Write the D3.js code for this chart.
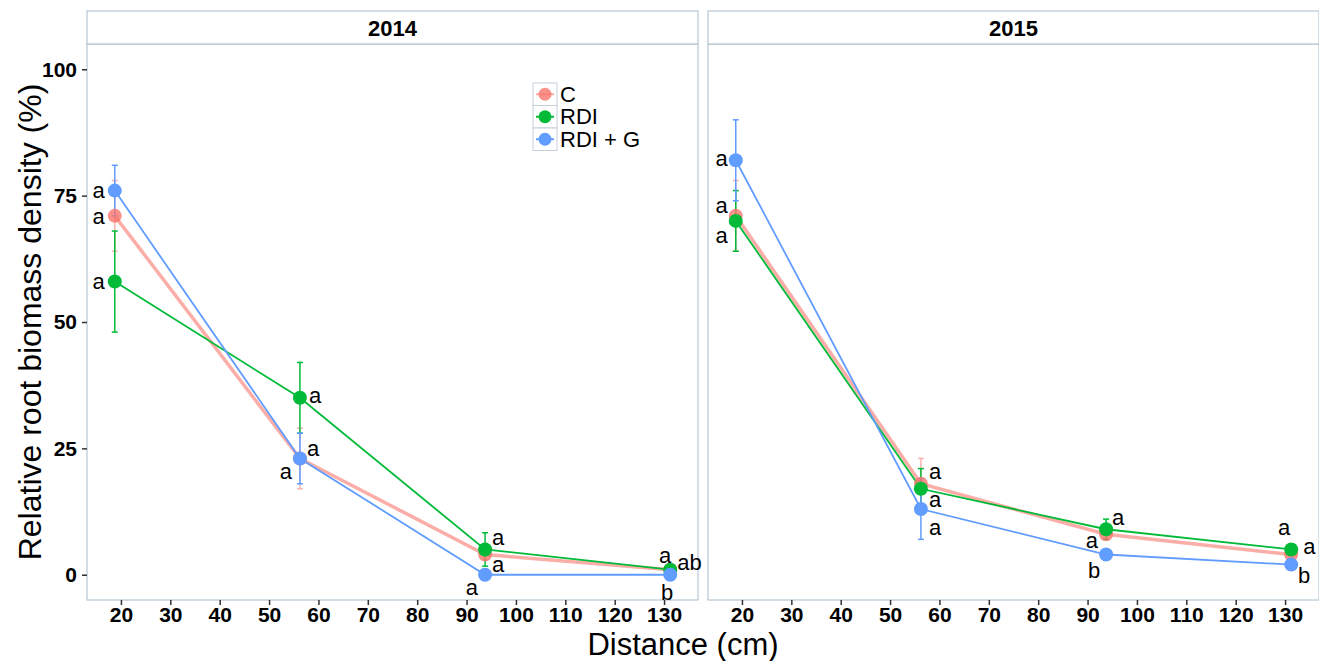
<!DOCTYPE html>
<html>
<head>
<meta charset="utf-8">
<script src="https://cdn.jsdelivr.net/npm/d3@7"></script>
<style>
  html, body { margin: 0; padding: 0; background: #fff; }
  svg { display: block; font-family: "Liberation Sans", Arial, sans-serif; }
</style>
</head>
<body>
<svg id="chart" width="1319" height="661"></svg>
<script>
// ---------------- DATA ----------------
const years = ["2014", "2015"];
const seriesNames = ["C", "RDI", "RDI + G"];
const distances = [18.75, 56.25, 93.75, 131.25];
const xTicks = [20, 30, 40, 50, 60, 70, 80, 90, 100, 110, 120, 130];
const yTicks = [0, 25, 50, 75, 100];

// means per year per series (order of seriesNames)
const mean2014_C    = [71, 23, 4, 1];
const mean2014_RDI  = [58, 35, 5, 1];
const mean2014_RDIG = [76, 23, 0, 0];
const mean2015_C    = [71, 18, 8, 4];
const mean2015_RDI  = [70, 17, 9, 5];
const mean2015_RDIG = [82, 13, 4, 2];
// error (half width)
const err2014_C    = [7, 6, 1, 0.5];
const err2014_RDI  = [10, 7, 3.3, 0.5];
const err2014_RDIG = [5, 5, 0, 0];
const err2015_C    = [7, 5, 1, 0.5];
const err2015_RDI  = [6, 4, 2, 0.8];
const err2015_RDIG = [8, 6, 0, 0];

// significance letters: [distance index, series index, letter]
const letters2014 = [
  [0, 2, "a"], [0, 0, "a"], [0, 1, "a"],
  [1, 1, "a"], [1, 2, "a"], [1, 0, "a"],
  [2, 1, "a"], [2, 0, "a"], [2, 2, "a"],
  [3, 1, "a"], [3, 0, "ab"], [3, 2, "b"]
];
const letters2015 = [
  [0, 2, "a"], [0, 0, "a"], [0, 1, "a"],
  [1, 0, "a"], [1, 1, "a"], [1, 2, "a"],
  [2, 1, "a"], [2, 0, "a"], [2, 2, "b"],
  [3, 1, "a"], [3, 0, "a"], [3, 2, "b"]
];

// ---------------- STYLE / LAYOUT ----------------
const colors = ["#F8766D", "#00BA38", "#619CFF"];
const panels = [
  { x0: 87, x1: 698 },
  { x0: 708, x1: 1319 }
];
const stripTop = 11, plotTop = 44, plotBottom = 600;
// label offsets (px) relative to the point, same order as letter arrays
const offs2014 = [
  [-10, 0, "end"], [-10, 0, "end"], [-10, 0, "end"],
  [9, -3, "start"], [7, -10, "start"], [-8, 13, "end"],
  [7, -12, "start"], [7, 10, "start"], [-7, 13, "end"],
  [-5, -14, "middle"], [7, -7, "start"], [-3, 18, "middle"]
];
const offs2015 = [
  [-8, -2, "end"], [-8, -11, "end"], [-8, 14, "end"],
  [8, -12, "start"], [8, 10, "start"], [8, 18, "start"],
  [6, -12, "start"], [-8, 6, "end"], [-12, 16, "middle"],
  [-7, -22, "middle"], [12, -8, "start"], [13, 11, "middle"]
];

const means = [
  [mean2014_C, mean2014_RDI, mean2014_RDIG],
  [mean2015_C, mean2015_RDI, mean2015_RDIG]
];
const errs = [
  [err2014_C, err2014_RDI, err2014_RDIG],
  [err2015_C, err2015_RDI, err2015_RDIG]
];
const letterSets = [letters2014, letters2015];
const offSets = [offs2014, offs2015];

const svg = d3.select("#chart");
const y = d3.scaleLinear().domain([-5, 105]).range([plotBottom, plotTop]);
const borderCol = "#a9bccb";
const fontFam = "Liberation Sans, Arial, sans-serif";

panels.forEach((p, pi) => {
  const x = d3.scaleLinear().domain([13.125, 136.875]).range([p.x0, p.x1]);
  const g = svg.append("g");

  g.append("rect").attr("x", p.x0).attr("y", plotTop).attr("width", p.x1 - p.x0).attr("height", plotBottom - plotTop)
    .attr("fill", "#fff").attr("stroke", borderCol).attr("stroke-width", 1);
  g.append("rect").attr("x", p.x0).attr("y", stripTop).attr("width", p.x1 - p.x0).attr("height", plotTop - stripTop)
    .attr("fill", "#fff").attr("stroke", borderCol).attr("stroke-width", 1);
  g.append("text").attr("x", (p.x0 + p.x1) / 2).attr("y", 36).attr("text-anchor", "middle")
    .attr("font-weight", "bold").attr("font-size", 22).attr("fill", "#000").text(years[pi]);

  const xa = g.append("g").attr("transform", `translate(0,${plotBottom})`)
    .call(d3.axisBottom(x).tickValues(xTicks).tickSize(5).tickPadding(2).tickSizeOuter(0));
  xa.select(".domain").remove();
  xa.selectAll(".tick line").attr("stroke", "#333").attr("stroke-width", 1.5);
  xa.selectAll(".tick text").attr("font-size", 21).attr("font-weight", "bold").attr("fill", "#000")
    .attr("font-family", fontFam);

  if (pi === 0) {
    const ya = g.append("g").attr("transform", `translate(${p.x0},0)`)
      .call(d3.axisLeft(y).tickValues(yTicks).tickSize(5).tickPadding(5).tickSizeOuter(0));
    ya.select(".domain").remove();
    ya.selectAll(".tick line").attr("stroke", "#333").attr("stroke-width", 1.5);
    ya.selectAll(".tick text").attr("font-size", 21).attr("font-weight", "bold").attr("fill", "#000")
      .attr("font-family", fontFam);
  }

  const line = d3.line().x(d => x(d[0])).y(d => y(d[1]));

  seriesNames.forEach((s, si) => {
    const pts = distances.map((d, i) => [d, means[pi][si][i], errs[pi][si][i]]);
    const col = colors[si];
    const isC = si === 0;
    pts.forEach(pt => {
      if (pt[2] <= 0) return;
      const eg = g.append("g").attr("stroke", col).attr("stroke-width", 1.5).attr("opacity", isC ? 0.55 : 1);
      eg.append("line").attr("x1", x(pt[0])).attr("x2", x(pt[0])).attr("y1", y(pt[1] - pt[2])).attr("y2", y(pt[1] + pt[2]));
      eg.append("line").attr("x1", x(pt[0]) - 3).attr("x2", x(pt[0]) + 3).attr("y1", y(pt[1] - pt[2])).attr("y2", y(pt[1] - pt[2]));
      eg.append("line").attr("x1", x(pt[0]) - 3).attr("x2", x(pt[0]) + 3).attr("y1", y(pt[1] + pt[2])).attr("y2", y(pt[1] + pt[2]));
    });
    g.append("path").datum(pts).attr("d", line).attr("fill", "none")
      .attr("stroke", col).attr("stroke-width", isC ? 3.5 : 1.8).attr("opacity", isC ? 0.6 : 1);
  });
  seriesNames.forEach((s, si) => {
    const pts = distances.map((d, i) => [d, means[pi][si][i]]);
    g.selectAll(null).data(pts).enter().append("circle")
      .attr("cx", d => x(d[0])).attr("cy", d => y(d[1])).attr("r", 7)
      .attr("fill", colors[si]).attr("opacity", si === 0 ? 0.8 : 1);
  });

  letterSets[pi].forEach((L, li) => {
    const [di, si, txt] = L;
    const o = offSets[pi][li];
    g.append("text")
      .attr("x", x(distances[di]) + o[0])
      .attr("y", y(means[pi][si][di]) + o[1])
      .attr("dy", "0.35em")
      .attr("text-anchor", o[2])
      .attr("font-size", 22).attr("fill", "#000").text(txt);
  });
});

// Legend
const lg = svg.append("g");
const legX = 533, legY = 83, keyW = 24, keyH = 22.5;
seriesNames.forEach((s, i) => {
  const ky = legY + i * keyH;
  lg.append("rect").attr("x", legX).attr("y", ky).attr("width", keyW).attr("height", keyH)
    .attr("fill", "#fff").attr("stroke", "#c3d0da").attr("stroke-width", 1);
  lg.append("line").attr("x1", legX + 3).attr("x2", legX + keyW - 3).attr("y1", ky + keyH / 2).attr("y2", ky + keyH / 2)
    .attr("stroke", colors[i]).attr("stroke-width", 2).attr("opacity", i === 0 ? 0.6 : 1);
  lg.append("circle").attr("cx", legX + keyW / 2).attr("cy", ky + keyH / 2).attr("r", 6.5)
    .attr("fill", colors[i]).attr("opacity", i === 0 ? 0.8 : 1);
  lg.append("text").attr("x", legX + keyW + 3).attr("y", ky + keyH / 2).attr("dy", "0.35em")
    .attr("font-size", 22).attr("fill", "#000").text(s);
});

// Axis titles
svg.append("text").attr("x", 683).attr("y", 655).attr("text-anchor", "middle")
  .attr("font-size", 31).attr("fill", "#000").text("Distance (cm)");
svg.append("text").attr("transform", "translate(41,322) rotate(-90)").attr("text-anchor", "middle")
  .attr("font-size", 32).attr("fill", "#000").text("Relative root biomass density (%)");
</script>
</body>
</html>
